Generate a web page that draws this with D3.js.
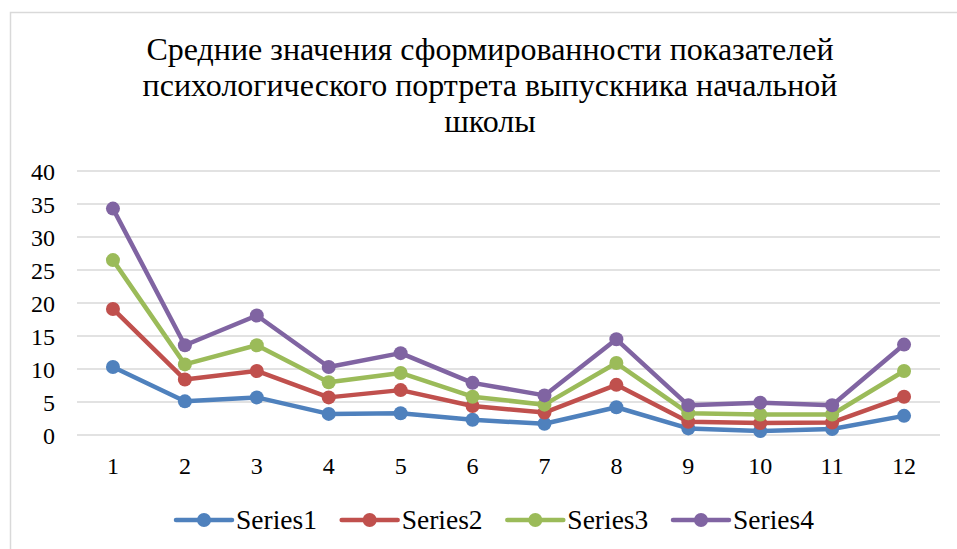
<!DOCTYPE html>
<html>
<head>
<meta charset="utf-8">
<script src="https://cdn.jsdelivr.net/npm/d3@7"></script>
</head>
<body style="margin:0; background:#fff">
<script>
const categories = ["1", "2", "3", "4", "5", "6", "7", "8", "9", "10", "11", "12"];
const seriesNames = ["Series1", "Series2", "Series3", "Series4"];
const series1 = [10.3, 5.1, 5.7, 3.2, 3.3, 2.3, 1.7, 4.2, 1.0, 0.6, 0.9, 2.9];
const series2 = [19.1, 8.4, 9.7, 5.7, 6.8, 4.4, 3.4, 7.6, 2.0, 1.8, 1.9, 5.8];
const series3 = [26.5, 10.7, 13.6, 8.0, 9.4, 5.8, 4.6, 10.9, 3.3, 3.1, 3.1, 9.7];
const series4 = [34.3, 13.6, 18.1, 10.3, 12.4, 7.9, 6.0, 14.5, 4.5, 4.9, 4.5, 13.7];
const yTicks = [0, 5, 10, 15, 20, 25, 30, 35, 40];
const titleLines = [
  "Средние значения сформированности показателей",
  "психологического портрета выпускника начальной",
  "школы"
];

const colors = ["#4F81BD", "#C0504D", "#9BBB59", "#8064A2"];
const allSeries = [series1, series2, series3, series4];
const fontFamily = "Liberation Serif";

const width = 957, height = 549;
const plot = {left: 77, right: 940, top: 171, bottom: 435};
const chartCenter = 490;

const svg = d3.select("body").append("svg")
  .attr("width", width)
  .attr("height", height)
  .attr("font-family", fontFamily);

// chart frame (runs off the bottom / right of the picture)
svg.append("rect")
  .attr("x", 10.5).attr("y", 12.5)
  .attr("width", width + 20).attr("height", height + 20)
  .attr("fill", "none")
  .attr("stroke", "#D9D9D9")
  .attr("stroke-width", 1.5);

const title = svg.append("text")
  .attr("font-family", fontFamily)
  .attr("font-size", 32)
  .attr("text-anchor", "middle");
title.selectAll("tspan")
  .data(titleLines)
  .join("tspan")
  .attr("x", chartCenter)
  .attr("y", (d, i) => 60 + i * 36)
  .text(d => d);

const x = d3.scaleBand().domain(categories).range([plot.left, plot.right]);
const y = d3.scaleLinear().domain([0, 40]).range([plot.bottom, plot.top]);

// gridlines
svg.append("g")
  .selectAll("line")
  .data(yTicks)
  .join("line")
  .attr("x1", plot.left).attr("x2", plot.right)
  .attr("y1", d => y(d)).attr("y2", d => y(d))
  .attr("stroke", "#D9D9D9")
  .attr("stroke-width", 1.5);

const yAxis = svg.append("g")
  .attr("transform", `translate(${plot.left - 22},0)`)
  .call(d3.axisLeft(y).tickValues(yTicks).tickSize(0).tickPadding(0))
  .attr("font-family", fontFamily)
  .attr("font-size", 24);
yAxis.select(".domain").remove();
yAxis.selectAll("text")
  .attr("fill", "#000")
  .attr("dy", "0.35em");

const xAxis = svg.append("g")
  .attr("transform", `translate(0,${plot.bottom})`)
  .call(d3.axisBottom(x).tickSize(0).tickPadding(22))
  .attr("font-family", fontFamily)
  .attr("font-size", 24);
xAxis.select(".domain").remove();
xAxis.selectAll("text")
  .attr("fill", "#000");

const line = d3.line()
  .x((d, i) => x(categories[i]) + x.bandwidth() / 2)
  .y(d => y(d));

allSeries.forEach((values, s) => {
  const g = svg.append("g");
  g.append("path")
    .datum(values)
    .attr("d", line)
    .attr("fill", "none")
    .attr("stroke", colors[s])
    .attr("stroke-width", 4.5)
    .attr("stroke-linejoin", "round");
  g.selectAll("circle")
    .data(values)
    .join("circle")
    .attr("cx", (d, i) => x(categories[i]) + x.bandwidth() / 2)
    .attr("cy", d => y(d))
    .attr("r", 7)
    .attr("fill", colors[s]);
});

// legend
const legendX = d3.scalePoint().domain(seriesNames).range([176, 673]);
const legend = svg.append("g")
  .selectAll("g")
  .data(seriesNames)
  .join("g")
  .attr("transform", d => `translate(${legendX(d)},520)`);
legend.append("line")
  .attr("x1", 0).attr("x2", 56)
  .attr("stroke", (d, i) => colors[i])
  .attr("stroke-width", 4.5)
  .attr("stroke-linecap", "round");
legend.append("circle")
  .attr("cx", 28).attr("r", 7)
  .attr("fill", (d, i) => colors[i]);
legend.append("text")
  .attr("x", 60)
  .attr("y", 8.5)
  .attr("font-size", 27.5)
  .text(d => d);
</script>
</body>
</html>
